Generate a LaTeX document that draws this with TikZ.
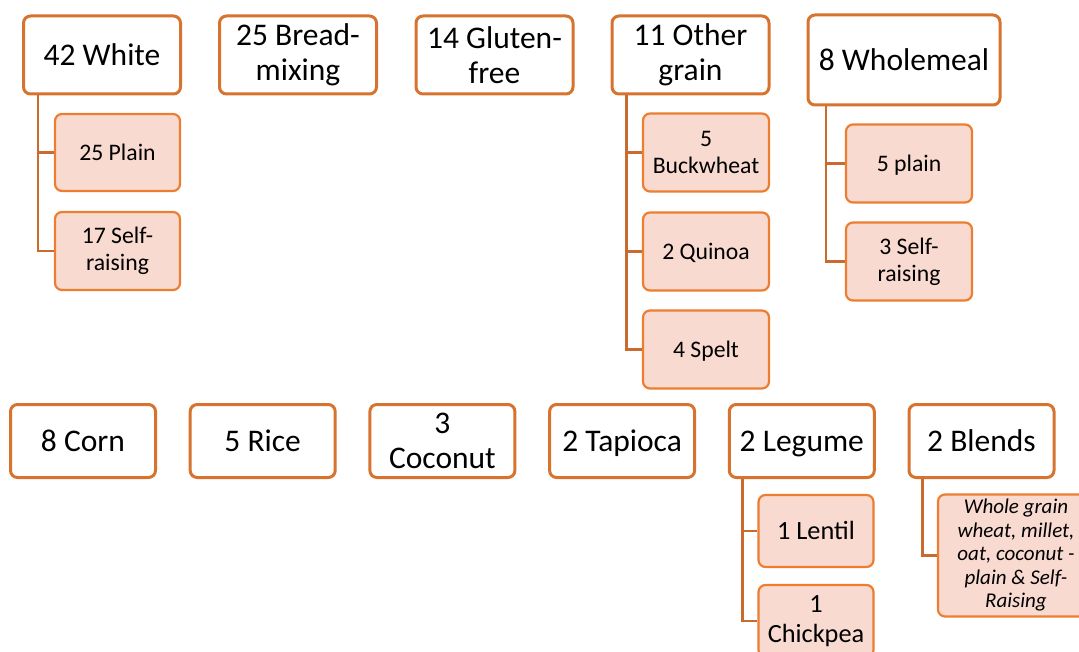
\documentclass[tikz,border=0pt]{standalone}
\usepackage{fontspec}
\setmainfont{Carlito}
\usetikzlibrary{calc}
\definecolor{pborder}{HTML}{D7732F}
\definecolor{cborder}{HTML}{ED7D31}
\definecolor{cfill}{HTML}{F8DAD0}
\definecolor{conncol}{HTML}{C96A2F}
\tikzset{
  parent/.style={draw=pborder, line width=3pt, fill=white, rounded corners=7pt,
    align=center, inner sep=2pt, font=\fontsize{31.5}{35}\selectfont},
  child/.style={draw=cborder, line width=2.2pt, fill=cfill, rounded corners=7pt,
    align=center, inner sep=2pt, font=\fontsize{23.7}{27}\selectfont},
  childb/.style={child, font=\fontsize{26.3}{30}\selectfont},
  childi/.style={child, font=\fontsize{21}{23.5}\selectfont\itshape},
  oneL/.style={text height=20.3pt, text depth=0pt},
  oneS/.style={text height=15.3pt, text depth=0pt},
  oneB/.style={text height=16.9pt, text depth=0pt},
  conn/.style={draw=conncol, line width=2.5pt}
}
\begin{document}
\begin{tikzpicture}[x=1pt,y=-1pt]
\useasboundingbox (0,0) rectangle (1079,652);
\clip (0,0) rectangle (1079,652);
% top row parents
\node[parent, oneL, minimum width=157, minimum height=78] (white) at (102,55) {42 White};
\node[parent, minimum width=157, minimum height=78] (bread) at (298,55) {25 Bread-\\mixing};
\node[parent, minimum width=157, minimum height=78] (gluten) at (494.5,55) {14 Gluten-\\free};
\node[parent, minimum width=157, minimum height=78] (other) at (690.5,55) {11 Other\\grain};
\node[parent, oneL, minimum width=192, minimum height=90] (whole) at (904,60) {8 Wholemeal};
% top children
\node[child, oneS, minimum width=125, minimum height=77] (wplain) at (117.5,152.5) {25 Plain};
\node[child, minimum width=125, minimum height=78] (wself) at (117.5,251) {17 Self-\\raising};
\node[child, minimum width=126, minimum height=78] (buck) at (706,152.5) {5\\Buckwheat};
\node[child, oneS, minimum width=126, minimum height=78] (quinoa) at (706,251.5) {2 Quinoa};
\node[child, oneS, minimum width=126, minimum height=78] (spelt) at (706,349.5) {4 Spelt};
\node[child, oneS, minimum width=126, minimum height=78] (wmplain) at (909,163.5) {5 plain};
\node[child, minimum width=126, minimum height=78] (wmself) at (909,261.5) {3 Self-\\raising};
% bottom row parents
\node[parent, oneL, minimum width=145, minimum height=73] (corn) at (83,441) {8 Corn};
\node[parent, oneL, minimum width=145, minimum height=73] (rice) at (262.7,441) {5 Rice};
\node[parent, minimum width=145, minimum height=73] (coconut) at (442.4,441) {3\\Coconut};
\node[parent, oneL, minimum width=145, minimum height=73] (tapioca) at (622.1,441) {2 Tapioca};
\node[parent, oneL, minimum width=145, minimum height=73] (legume) at (801.8,441) {2 Legume};
\node[parent, oneL, minimum width=145, minimum height=73] (blends) at (981.5,441) {2 Blends};
% bottom children
\node[childb, oneB, minimum width=115, minimum height=72] (lentil) at (816,531) {1 Lentil};
\node[childb, minimum width=115, minimum height=72] (chick) at (816,621) {1\\Chickpea};
\node[childi, minimum width=156, minimum height=122] (blend1) at (1016,555.5) {Whole grain\\wheat, millet,\\oat, coconut -\\plain \& Self-\\Raising};
% connector roots
\coordinate (rw) at ($(white.south west)!0.1!(white.south east)$);
\coordinate (ro) at ($(other.south west)!0.1!(other.south east)$);
\coordinate (rwm) at ($(whole.south west)!0.1!(whole.south east)$);
\coordinate (rl) at ($(legume.south west)!0.1!(legume.south east)$);
\coordinate (rb) at ($(blends.south west)!0.1!(blends.south east)$);
\draw[conn] (rw) |- (wplain.west);
\draw[conn] (rw) |- (wself.west);
\draw[conn] (ro) |- (buck.west);
\draw[conn] (ro) |- (quinoa.west);
\draw[conn] (ro) |- (spelt.west);
\draw[conn] (rwm) |- (wmplain.west);
\draw[conn] (rwm) |- (wmself.west);
\draw[conn] (rl) |- (lentil.west);
\draw[conn] (rl) |- (chick.west);
\draw[conn] (rb) |- (blend1.west);
\end{tikzpicture}
\end{document}
